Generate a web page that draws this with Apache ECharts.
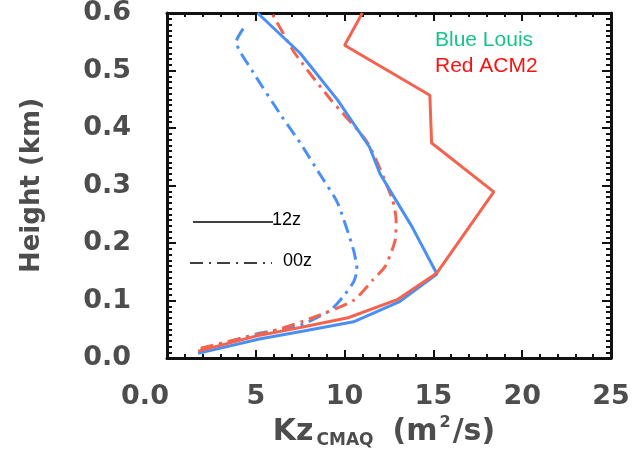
<!DOCTYPE html>
<html>
<head>
<meta charset="utf-8">
<script src="https://cdn.jsdelivr.net/npm/echarts@6/dist/echarts.min.js"></script>
<style>
  html, body { margin: 0; padding: 0; background: #fff; }
  #chart { width: 637px; height: 451px; }
</style>
</head>
<body>
<div id="chart"></div>
<script>
'use strict';

// tick labels
var xTicks = [0, 5, 10, 15, 20, 25];
var yTicks = [0.0, 0.1, 0.2, 0.3, 0.4, 0.5, 0.6];

// Red ACM2, 12z (solid)
var acm12Kz = [1.75, 5.0, 7.5, 10.2, 13.0, 15.2, 18.4, 14.9, 14.8, 10.0, 11.0];
var acm12H  = [0.012, 0.038, 0.053, 0.070, 0.102, 0.148, 0.289, 0.374, 0.457, 0.544, 0.600];

// Blue Louis, 12z (solid)
var louis12Kz = [1.75, 5.2, 7.7, 10.5, 13.1, 15.2, 13.8, 12.0, 11.4, 9.6, 7.5, 5.1];
var louis12H  = [0.008, 0.033, 0.047, 0.063, 0.098, 0.146, 0.228, 0.320, 0.367, 0.449, 0.530, 0.600];

// Red ACM2, 00z (dash-dot)
var acm00Kz = [1.9, 4.3, 6.2, 8.2, 10.5, 11.6, 12.3, 12.85, 12.9, 12.7, 11.3, 9.2, 7.2, 5.9];
var acm00H  = [0.017, 0.035, 0.049, 0.070, 0.100, 0.136, 0.160, 0.205, 0.240, 0.275, 0.374, 0.450, 0.530, 0.600];

// Blue Louis, 00z (dash-dot)
var louis00Kz = [1.9, 5.2, 7.5, 9.2, 9.9, 10.5, 10.7, 10.5, 9.6, 8.6, 7.5, 6.4, 4.85, 3.9, 4.4];
var louis00H  = [0.014, 0.043, 0.057, 0.083, 0.106, 0.132, 0.153, 0.188, 0.270, 0.320, 0.374, 0.423, 0.497, 0.550, 0.578];

function pairs(xs, ys) {
  return xs.map(function (x, i) { return [x, ys[i]]; });
}

var RED = '#f4634f';
var BLUE = '#4a8ff3';
var DASHDOT = [13, 6, 3, 6];
var AXFONT = 'DejaVu Sans, sans-serif';
var TXFONT = 'Liberation Sans, Arial, sans-serif';
var AXCOLOR = '#4d4d4d';

var chart = echarts.init(document.getElementById('chart'));

var frameLine = { onZero: false, lineStyle: { color: '#111', width: 3 } };
var tickStyle = { color: '#111', width: 2 };

var option = {
  animation: false,
  backgroundColor: '#fff',
  grid: { left: 167, top: 13, right: 26, bottom: 93, containLabel: false, outerBoundsMode: 'none' },
  xAxis: [{
    type: 'value',
    min: 0, max: 25, interval: 5,
    axisLine: frameLine,
    axisTick: { inside: true, length: 8, lineStyle: tickStyle },
    minorTick: { show: true, splitNumber: 5, length: 4, lineStyle: tickStyle },
    splitLine: { show: false },
    axisLabel: {
      margin: 25,
      fontFamily: AXFONT,
      fontWeight: 'bold',
      fontSize: 27,
      color: AXCOLOR,
      formatter: function (v) { return v === 0 ? '{z|0.0}' : String(v); },
      rich: { z: { fontFamily: AXFONT, fontWeight: 'bold', fontSize: 27, color: AXCOLOR, padding: [0, 44, 0, 0] } }
    },
    name: '{a|Kz}{b|CMAQ}{a|(m}{c|2}{a|/s)}',
    nameLocation: 'middle',
    nameGap: 53,
    nameTextStyle: {
      padding: [0, 10, 0, 0],
      rich: {
        a: { fontFamily: AXFONT, fontWeight: 'bold', fontSize: 30, color: AXCOLOR, lineHeight: 34, verticalAlign: 'middle' },
        b: { fontFamily: AXFONT, fontWeight: 'bold', fontSize: 17, color: AXCOLOR, lineHeight: 34, verticalAlign: 'bottom', padding: [0, 19, 0, 3] },
        c: { fontFamily: AXFONT, fontWeight: 'bold', fontSize: 16, color: AXCOLOR, lineHeight: 34, verticalAlign: 'top', padding: [0, 2, 0, 2] }
      }
    }
  }, {
    type: 'value',
    position: 'top',
    min: 0, max: 25, interval: 5,
    axisLine: frameLine,
    axisTick: { inside: true, length: 8, lineStyle: tickStyle },
    minorTick: { show: true, splitNumber: 5, length: 4, lineStyle: tickStyle },
    splitLine: { show: false },
    axisLabel: { show: false }
  }],
  yAxis: [{
    type: 'value',
    min: 0, max: 0.6, interval: 0.1,
    axisLine: frameLine,
    axisTick: { inside: true, length: 9, lineStyle: tickStyle },
    minorTick: { show: true, splitNumber: 10, length: 5, lineStyle: tickStyle },
    splitLine: { show: false },
    axisLabel: {
      margin: 36,
      fontFamily: AXFONT,
      fontWeight: 'bold',
      fontSize: 27,
      color: AXCOLOR,
      formatter: function (v) { return v.toFixed(1); }
    },
    name: 'Height (km)',
    nameLocation: 'middle',
    nameGap: 122,
    nameTextStyle: {
      fontFamily: AXFONT,
      fontWeight: 'bold',
      fontSize: 26,
      color: AXCOLOR
    }
  }, {
    type: 'value',
    position: 'right',
    min: 0, max: 0.6, interval: 0.1,
    axisLine: frameLine,
    axisTick: { inside: true, length: 9, lineStyle: tickStyle },
    minorTick: { show: true, splitNumber: 10, length: 5, lineStyle: tickStyle },
    splitLine: { show: false },
    axisLabel: { show: false }
  }],
  series: [{
    name: 'Louis 00z',
    type: 'line',
    data: pairs(louis00Kz, louis00H),
    symbol: 'none',
    smooth: 0.2,
    lineStyle: { color: BLUE, width: 3, type: DASHDOT }
  }, {
    name: 'ACM2 00z',
    type: 'line',
    data: pairs(acm00Kz, acm00H),
    symbol: 'none',
    smooth: 0.2,
    lineStyle: { color: RED, width: 3, type: DASHDOT }
  }, {
    name: 'Louis 12z',
    type: 'line',
    data: pairs(louis12Kz, louis12H),
    symbol: 'none',
    lineStyle: { color: BLUE, width: 3 }
  }, {
    name: 'ACM2 12z',
    type: 'line',
    data: pairs(acm12Kz, acm12H),
    symbol: 'none',
    lineStyle: { color: RED, width: 3 }
  }],
  graphic: [
    { type: 'text', left: 435, top: 30, style: { text: 'Blue Louis', fontFamily: TXFONT, fontSize: 21, fill: '#17c38c' } },
    { type: 'text', left: 435, top: 56, style: { text: 'Red ACM2', fontFamily: TXFONT, fontSize: 21, fill: '#ff1010' } },
    { type: 'line', shape: { x1: 193, y1: 222, x2: 273, y2: 222 }, style: { stroke: '#000', lineWidth: 1.5 } },
    { type: 'text', left: 272, top: 211, style: { text: '12z', fontFamily: TXFONT, fontSize: 18, fill: '#000' } },
    { type: 'line', shape: { x1: 190, y1: 263, x2: 272, y2: 263 }, style: { stroke: '#000', lineWidth: 1.5, lineDash: [13, 6, 2, 6] } },
    { type: 'text', left: 283, top: 252, style: { text: '00z', fontFamily: TXFONT, fontSize: 18, fill: '#000' } }
  ]
};

chart.setOption(option);
</script>
</body>
</html>
